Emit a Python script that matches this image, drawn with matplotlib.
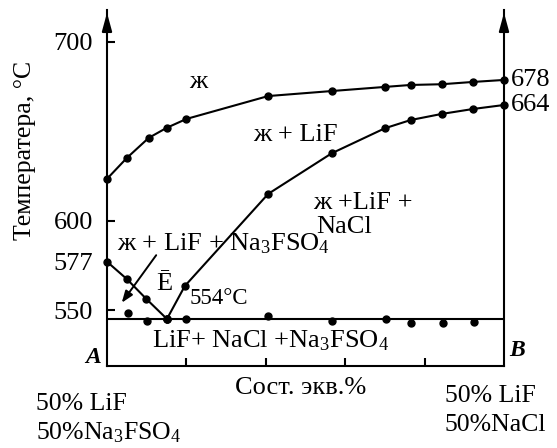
import matplotlib
matplotlib.use("Agg")
import matplotlib.pyplot as plt

plt.rcParams['font.family'] = ['Liberation Serif', 'DejaVu Serif']
plt.rcParams['mathtext.fontset'] = 'custom'
plt.rcParams['mathtext.rm'] = 'Liberation Serif'
plt.rcParams['mathtext.it'] = 'Liberation Serif:italic'

# liquidus ж / ж+LiF
liq_x = [0, 5, 10.5, 15, 20, 40.6, 56.6, 70, 76.5, 84.3, 92.3, 100]
liq_t = [623.3, 635.0, 646.2, 651.8, 656.8, 669.6, 672.4, 674.7, 675.8, 676.2, 677.5, 678.6]
# LiF + NaCl line
nacl_x = [15.1, 19.6, 40.6, 56.6, 70, 76.5, 84.3, 92.3, 100]
nacl_t = [545.0, 563.4, 614.9, 637.6, 651.6, 656.2, 659.6, 662.4, 664.6]
# LiF + Na3FSO4 line
fso_x = [0, 5, 9.9, 15.1]
fso_t = [577.0, 567.3, 556.2, 545.0]
# solidus points
sol_x = [5.3, 10.1, 15.1, 19.9, 40.6, 56.7, 70.3, 76.6, 84.6, 92.4]
sol_t = [548.4, 543.9, 545.0, 545.0, 546.7, 543.9, 545.0, 542.8, 542.8, 543.3]
eut_t = 545.0

ytick_vals = [550, 577, 600, 700]
xtick_vals = [20, 40, 60, 80]

fig = plt.figure(figsize=(5.57, 4.48), dpi=100)
ax = fig.add_axes([107/557, 82/448, 397/557, 356/448])
ax.set_xlim(0, 100)
ax.set_ylim(518.7, 717.7)

ax.spines['top'].set_visible(False)
for s in ['left', 'right', 'bottom']:
    ax.spines[s].set_linewidth(1.5)

ax.plot(liq_x, liq_t, color='k', lw=1.5, marker='o', ms=5, clip_on=False)
ax.plot(nacl_x, nacl_t, color='k', lw=1.5, marker='o', ms=5, clip_on=False)
ax.plot(fso_x, fso_t, color='k', lw=1.5, marker='o', ms=5, clip_on=False)
ax.axhline(eut_t, color='k', lw=1.5)
ax.plot(sol_x, sol_t, 'o', color='k', ms=5)

ax.set_yticks(ytick_vals)
ax.set_yticklabels([str(v) for v in ytick_vals])
ax.tick_params(axis='y', direction='in', length=6, width=1.5, labelsize=19, pad=10)
ax.yaxis.get_major_ticks()[1].tick1line.set_visible(False)
ax.set_xticks(xtick_vals)
ax.set_xticklabels([])
ax.tick_params(axis='x', direction='in', length=6, width=1.5)

# arrows on the vertical axes
for xa in (0, 100):
    ax.annotate('', xy=(xa, 717.7), xytext=(xa, 706),
                arrowprops=dict(arrowstyle='-|>,head_width=0.15,head_length=0.55',
                                color='k', lw=1.5, mutation_scale=20),
                annotation_clip=False)

ax.annotate('', xy=(3.3, 552.8), xytext=(12.8, 581.9),
            arrowprops=dict(arrowstyle='-|>,head_width=0.13,head_length=0.35',
                            color='k', lw=1.4, mutation_scale=20))

ax.text(101.8, liq_t[-1], '678', fontsize=19, va='center', ha='left')
ax.text(101.8, nacl_t[-1], '664', fontsize=19, va='center', ha='left')

ax.text(22.9, 677.5, 'ж', fontsize=19, ha='center', va='center')
ax.text(47.4, 647.8, 'ж + LiF', fontsize=19, ha='center', va='center')
ax.text(51.9, 609.8, 'ж +LiF +', fontsize=19, ha='left', va='center')
ax.text(52.6, 596.3, 'NaCl', fontsize=19, ha='left', va='center')
ax.text(2.6, 587.0, 'ж + LiF + Na$_\\mathrm{3}$FSO$_\\mathrm{4}$', fontsize=19,
        ha='left', va='center')
ax.text(14.4, 564.6, 'Ē', fontsize=19, ha='center', va='center')
ax.text(20.9, 556.7, '554°C', fontsize=16.5, ha='left', va='center')
ax.text(41.1, 532.7, 'LiF+ NaCl +Na$_\\mathrm{3}$FSO$_\\mathrm{4}$', fontsize=19,
        ha='center', va='center')
ax.text(-3.5, 523.2, 'A', fontsize=17, ha='center', va='center',
        fontweight='bold', fontstyle='italic', clip_on=False)
ax.text(103.3, 527.1, 'B', fontsize=17, ha='center', va='center',
        fontweight='bold', fontstyle='italic', clip_on=False)

fig.text(25/557, 1 - 150/448, 'Температера, °C', fontsize=18.5, rotation=90,
         ha='center', va='center')
fig.text(301/557, 1 - 388/448, 'Сост. экв.%', fontsize=19, ha='center', va='center')
fig.text(36/557, 1 - 404/448, '50% LiF', fontsize=18.5, ha='left', va='center')
fig.text(36/557, 1 - 433/448, '50%Na$_\\mathrm{3}$FSO$_\\mathrm{4}$', fontsize=18.5,
         ha='left', va='center')
fig.text(445/557, 1 - 396/448, '50% LiF', fontsize=18.5, ha='left', va='center')
fig.text(445/557, 1 - 425/448, '50%NaCl', fontsize=18.5, ha='left', va='center')

fig.savefig('out.png', dpi=100)
